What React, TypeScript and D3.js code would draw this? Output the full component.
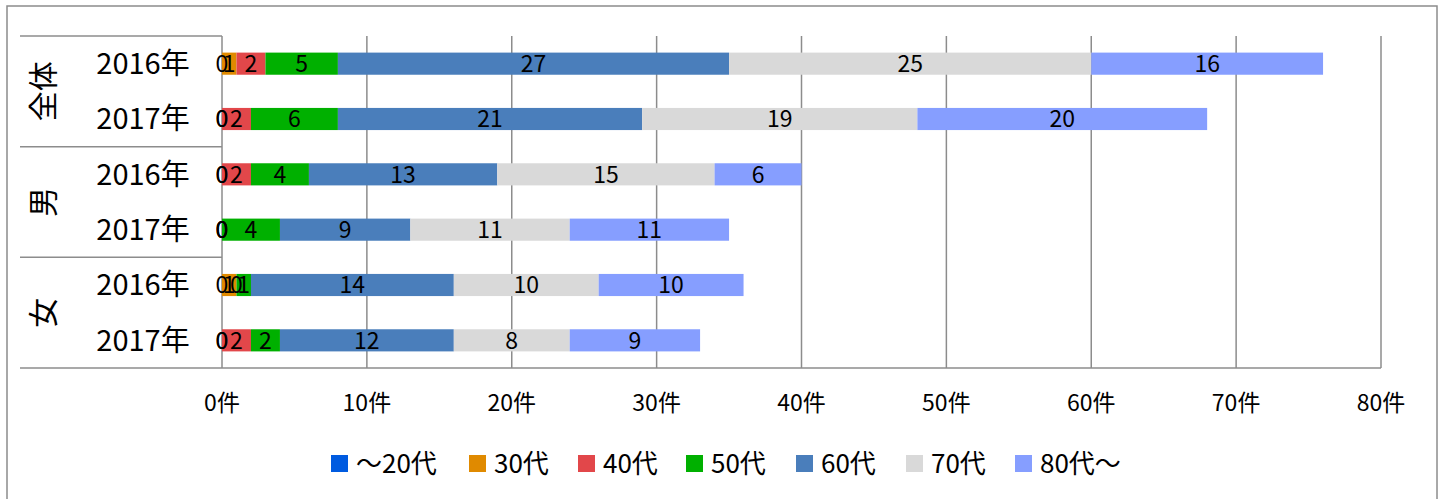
import React from 'react';
import * as d3 from 'd3';

const groups = ['全体', '男', '女'];
const years = ['2016年', '2017年', '2016年', '2017年', '2016年', '2017年'];
const seriesNames = ['～20代', '30代', '40代', '50代', '60代', '70代', '80代～'];
const u20 = [0, 0, 0, 0, 0, 0];
const s30 = [1, 0, 0, 0, 1, 0];
const s40 = [2, 2, 2, 0, 0, 2];
const s50 = [5, 6, 4, 4, 1, 2];
const s60 = [27, 21, 13, 9, 14, 12];
const s70 = [25, 19, 15, 11, 10, 8];
const s80 = [16, 20, 6, 11, 10, 9];
const xTicks = [0, 10, 20, 30, 40, 50, 60, 70, 80];
const colors = ['#005BE0', '#E08A00', '#E2474A', '#00B000', '#4A7EBB', '#D9D9D9', '#869EFF'];

const FONT = '"Noto Sans CJK JP", "Noto Sans", sans-serif';

export default function App() {
  const W = 1444, H = 499;
  const left = 222, right = 1381, top = 36, bottom = 368;
  const x = d3.scaleLinear().domain([0, 80]).range([left, right]);
  const idx = years.map((_, i) => i);
  const y = d3.scaleBand<number>().domain(idx).range([top, bottom]).paddingInner(0.6).paddingOuter(0.3);
  const seriesVals = [u20, s30, s40, s50, s60, s70, s80];
  const rows = idx.map(i => {
    const o: any = { i };
    seriesNames.forEach((n, k) => (o[n] = seriesVals[k][i]));
    return o;
  });
  const stacked = d3.stack<any>().keys(seriesNames)(rows);
  const step = y.step();
  const groupBounds = [0, 2, 4, 6].map(k => top + k * step);
  const legendX = [331, 469, 578, 686, 796, 906, 1015];
  const gridColor = '#8C8C8C';

  return (
    <svg width={W} height={H} style={{ position: 'absolute', left: 0, top: 0, background: '#fff' }} fontFamily={FONT}>
      <rect x={7} y={6} width={1430} height={520} fill="#fff" stroke="#8C8C8C" strokeWidth={1.5} />
      {xTicks.map(t => (
        <line key={'g' + t} x1={x(t)} x2={x(t)} y1={top} y2={bottom} stroke={gridColor} strokeWidth={1.5} />
      ))}
      {groupBounds.map((b, k) => (
        <line key={'gb' + k} x1={20} x2={k === 3 ? right : left} y1={b} y2={b} stroke={gridColor} strokeWidth={1.5} />
      ))}
      {stacked.map((s, k) => (
        <g key={s.key} fill={colors[k]}>
          {s.map((d, i) => (
            <rect key={i} x={x(d[0])} y={y(i)!} width={x(d[1]) - x(d[0])} height={y.bandwidth()} />
          ))}
        </g>
      ))}
      {stacked.map((s, k) => (
        <g key={'l' + s.key} fontSize={23} textAnchor="middle" fill="#000">
          {s.map((d, i) => (
            <text key={i} x={(x(d[0]) + x(d[1])) / 2} y={y(i)! + y.bandwidth() / 2} dy="0.36em">
              {d[1] - d[0]}
            </text>
          ))}
        </g>
      ))}
      {years.map((yr, i) => (
        <text key={'y' + i} x={143} y={y(i)! + y.bandwidth() / 2} dy="0.36em" fontSize={29} textAnchor="middle">
          {yr}
        </text>
      ))}
      {groups.map((g, k) => {
        const cy = (groupBounds[k] + groupBounds[k + 1]) / 2;
        return (
          <text key={'gr' + g} transform={`translate(43,${cy}) rotate(-90)`} dy="0.36em" fontSize={30} textAnchor="middle">
            {g}
          </text>
        );
      })}
      {xTicks.map(t => (
        <text key={'t' + t} x={x(t)} y={403} dy="0.36em" fontSize={23} textAnchor="middle">
          {t}件
        </text>
      ))}
      {seriesNames.map((n, k) => (
        <g key={'lg' + n}>
          <rect x={legendX[k]} y={455} width={17} height={17} fill={colors[k]} />
          <text x={legendX[k] + 25} y={463.5} dy="0.36em" fontSize={26}>
            {n}
          </text>
        </g>
      ))}
    </svg>
  );
}
